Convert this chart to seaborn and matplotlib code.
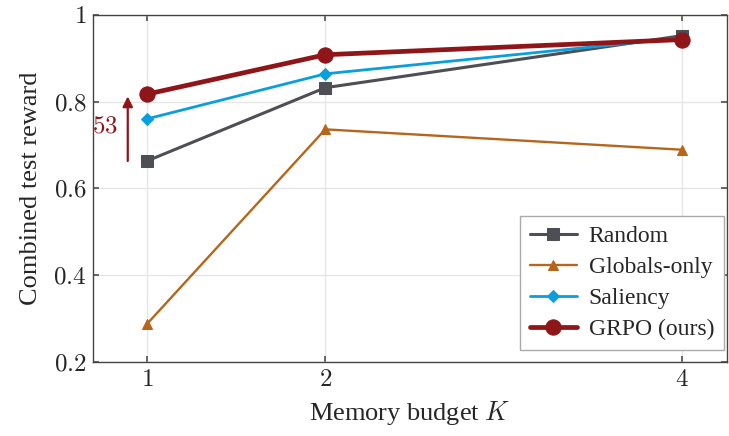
import numpy as np
import pandas as pd
import seaborn as sns
import matplotlib.pyplot as plt

budgets = [1, 2, 4]
random_vals = [0.663, 0.832, 0.952]
globals_vals = [0.287, 0.736, 0.689]
saliency_vals = [0.760, 0.864, 0.947]
grpo_vals = [0.817, 0.908, 0.943]
gain_label = "53"

sns.set_theme(style="whitegrid")
plt.rcParams['font.family'] = ['Liberation Serif', 'DejaVu Serif']
plt.rcParams['mathtext.fontset'] = 'cm'

df = pd.DataFrame({
    "K": budgets * 4,
    "reward": random_vals + globals_vals + saliency_vals + grpo_vals,
    "method": ["Random"] * 3 + ["Globals-only"] * 3 + ["Saliency"] * 3 + ["GRPO (ours)"] * 3,
})

styles = {
    "Random": dict(color="#4d4f55", marker="s", ms=8, lw=2.2),
    "Globals-only": dict(color="#b5661b", marker="^", ms=7, lw=1.7),
    "Saliency": dict(color="#0a9fdc", marker="D", ms=6, lw=2.0),
    "GRPO (ours)": dict(color="#8e1518", marker="o", ms=11, lw=3.4),
}

fig = plt.figure(figsize=(7.29, 4.36), dpi=100)
ax = fig.add_axes([0.128, 0.170, 0.869, 0.796])

for name, st in styles.items():
    sub = df[df["method"] == name]
    sns.lineplot(data=sub, x="K", y="reward", ax=ax, color=st["color"],
                 marker=st["marker"], markersize=st["ms"], linewidth=st["lw"],
                 markeredgecolor=st["color"], label=name)

# improvement arrow at K=1
ax.annotate("", xy=(0.893, grpo_vals[0] - 0.005), xytext=(0.893, random_vals[0]),
            arrowprops=dict(arrowstyle="-|>", color="#8e1518", lw=1.6,
                            mutation_scale=15, shrinkA=0, shrinkB=0))
ax.text(0.84, (grpo_vals[0] + random_vals[0]) / 2 + 0.003, "$" + gain_label + "$",
        color="#8e1518", fontsize=18, ha="right", va="center")

ax.set_xlim(0.7, 4.25)
ax.set_ylim(0.2, 1.0)
ax.set_xticks(budgets)
ax.set_xticklabels(["$%d$" % b for b in budgets])
yt = [0.2, 0.4, 0.6, 0.8, 1.0]
ax.set_yticks(yt)
ax.set_yticklabels(["$0.2$", "$0.4$", "$0.6$", "$0.8$", "$1$"])
ax.tick_params(labelsize=18, direction="in", length=4, color="#555555",
               top=True, right=True, bottom=True, left=True, pad=5)
ax.grid(True, color="#e6e6e6", lw=1.0)
for s in ax.spines.values():
    s.set_color("#444444")
    s.set_linewidth(1.0)

ax.set_xlabel("Memory budget $K$", fontsize=19, labelpad=6)
ax.set_ylabel("Combined test reward", fontsize=19, labelpad=8)

leg = ax.legend(loc="lower right", fontsize=17, frameon=True, fancybox=False,
                edgecolor="#aaaaaa", framealpha=1, handlelength=2.0,
                borderpad=0.4, labelspacing=0.4, handletextpad=0.5,
                borderaxespad=0, bbox_to_anchor=(0.995, 0.035))
leg.get_frame().set_linewidth(1.0)

fig.savefig("out.png", dpi=100)
